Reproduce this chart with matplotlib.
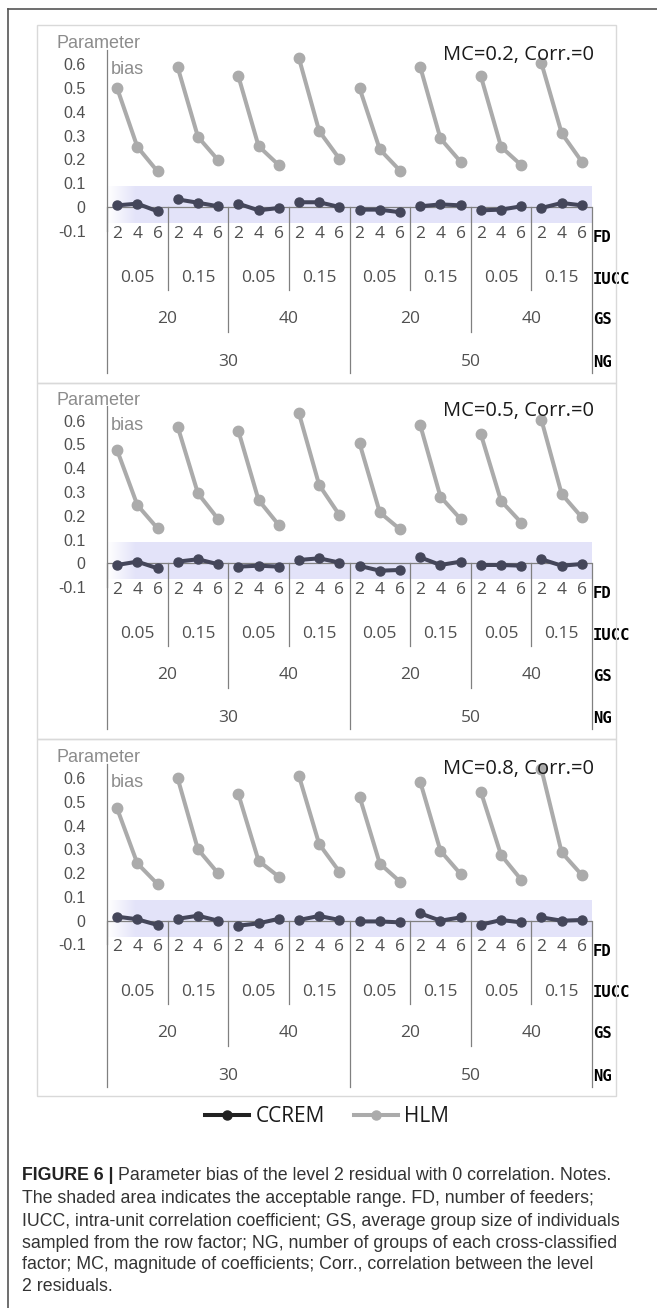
import matplotlib
matplotlib.use('Agg')
import matplotlib.pyplot as plt
from matplotlib.lines import Line2D
from matplotlib.patches import Rectangle
import numpy as np

W, H = 657, 1308

# ---------------- data ----------------
fd_levels = ['2', '4', '6']
iucc_levels = ['0.05', '0.15']
gs_levels = ['20', '40']
ng_levels = ['30', '50']
row_names = ['FD', 'IUCC', 'GS', 'NG']

panel_titles = ['MC=0.2, Corr.=0', 'MC=0.5, Corr.=0', 'MC=0.8, Corr.=0']

hlm_mc02 = [0.50, 0.253, 0.150, 0.587, 0.295, 0.197, 0.550, 0.256, 0.176, 0.625, 0.319, 0.203,
            0.499, 0.242, 0.153, 0.589, 0.288, 0.190, 0.550, 0.253, 0.176, 0.604, 0.310, 0.190]
ccrem_mc02 = [0.007, 0.014, -0.018, 0.032, 0.018, 0.003, 0.014, -0.014, -0.004, 0.020, 0.020, 0.000,
              -0.011, -0.011, -0.022, 0.003, 0.011, 0.007, -0.014, -0.011, 0.003, -0.004, 0.017, 0.007]

hlm_mc05 = [0.476, 0.245, 0.147, 0.574, 0.294, 0.186, 0.557, 0.266, 0.161, 0.630, 0.329, 0.203,
            0.504, 0.214, 0.143, 0.581, 0.280, 0.186, 0.543, 0.262, 0.171, 0.602, 0.291, 0.193]
ccrem_mc05 = [-0.007, 0.007, -0.021, 0.007, 0.017, -0.004, -0.014, -0.010, -0.014, 0.014, 0.021, 0.003,
              -0.011, -0.031, -0.028, 0.025, -0.007, 0.007, -0.007, -0.007, -0.010, 0.017, -0.010, -0.003]

hlm_mc08 = [0.472, 0.241, 0.154, 0.598, 0.300, 0.199, 0.532, 0.252, 0.185, 0.608, 0.322, 0.206,
            0.521, 0.240, 0.164, 0.584, 0.294, 0.196, 0.542, 0.276, 0.172, 0.636, 0.287, 0.192]
ccrem_mc08 = [0.017, 0.006, -0.018, 0.008, 0.021, 0.000, -0.021, -0.011, 0.008, 0.003, 0.020, 0.003,
              -0.003, -0.003, -0.007, 0.031, 0.000, 0.014, -0.017, 0.003, -0.007, 0.014, 0.000, 0.003]

hlm_series = [hlm_mc02, hlm_mc05, hlm_mc08]
ccrem_series = [ccrem_mc02, ccrem_mc05, ccrem_mc08]

yticks = [-0.1, 0, 0.1, 0.2, 0.3, 0.4, 0.5, 0.6]
ytick_labels = ['-0.1', '0', '0.1', '0.2', '0.3', '0.4', '0.5', '0.6']
accept_low, accept_high = -0.068, 0.085

caption_bold = 'FIGURE 6 |'
caption_lines = [
    'Parameter bias of the level 2 residual with 0 correlation. Notes.',
    'The shaded area indicates the acceptable range. FD, number of feeders;',
    'IUCC, intra-unit correlation coefficient; GS, average group size of individuals',
    'sampled from the row factor; NG, number of groups of each cross-classified',
    'factor; MC, magnitude of coefficients; Corr., correlation between the level',
    '2 residuals.',
]

# ---------------- style ----------------
HLM_C = '#ABABAB'
CC_C = '#44465A'
AX_C = '#808080'
TXT_C = '#505050'
SHADE = (0.894, 0.894, 0.98)
YMIN, YMAX = -0.1, 0.66

fig = plt.figure(figsize=(W / 100, H / 100), dpi=100)

def fx(x):
    return x / W

def fy(y):
    return 1 - y / H

# outer frame
fig.add_artist(Line2D([fx(8), fx(8)], [fy(9), fy(1308)], transform=fig.transFigure, color='#555555', lw=1.2))
fig.add_artist(Line2D([fx(8), fx(657)], [fy(9), fy(9)], transform=fig.transFigure, color='#555555', lw=1.2))

box_tops = [25, 383, 739]
box_bots = [383, 739, 1096]
for bt, bb in zip(box_tops, box_bots):
    fig.add_artist(Rectangle((fx(37), fy(bb)), (616 - 37) / W, (bb - bt) / H, transform=fig.transFigure,
                             fill=False, ec='#D9D9D9', lw=1.0))

cats = [(ng, gs, iu, fd) for ng in ng_levels for gs in gs_levels for iu in iucc_levels for fd in fd_levels]
xs = np.arange(len(cats))

offsets = [0, 356.3, 713.7]
top_px, bot_px = 50.0, 230.8
axh = bot_px - top_px

def frac(ypx):
    return (bot_px - ypx) / axh

for p in range(3):
    dy = offsets[p]
    ax = fig.add_axes([fx(107), fy(bot_px + dy), 485 / W, axh / H])
    ax.set_xlim(-0.5, 23.5)
    ax.set_ylim(YMIN, YMAX)
    ax.patch.set_alpha(0)
    for s in ['top', 'right', 'bottom']:
        ax.spines[s].set_visible(False)
    ax.spines['left'].set_color(AX_C)
    ax.spines['left'].set_linewidth(0.9)
    ax.set_xticks([])
    ax.set_yticks(yticks)
    ax.set_yticklabels(ytick_labels)
    ax.tick_params(axis='y', length=0, pad=15.5, labelcolor=TXT_C)
    for lab in ax.get_yticklabels():
        lab.set_fontfamily('Liberation Sans')
        lab.set_fontsize(11.5)

    # acceptable range shading with faded left edge
    n = 400
    gx = np.linspace(-0.5, 23.5, n)
    alpha = np.clip((gx + 0.5) / 1.4, 0.08, 1.0)
    img = np.zeros((1, n, 4))
    img[..., 0], img[..., 1], img[..., 2] = SHADE
    img[0, :, 3] = alpha
    ax.imshow(img, extent=[-0.5, 23.5, accept_low, accept_high], aspect='auto', zorder=0,
              interpolation='bilinear')
    ax.set_xlim(-0.5, 23.5)
    ax.set_ylim(YMIN, YMAX)

    ax.axhline(0, color=AX_C, lw=0.9, zorder=1)

    hlm = hlm_series[p]
    cc = ccrem_series[p]
    for g in range(8):
        sl = slice(3 * g, 3 * g + 3)
        ax.plot(xs[sl], hlm[sl], color=HLM_C, lw=2.9, marker='o', ms=7.5, zorder=3, clip_on=False)
        ax.plot(xs[sl], cc[sl], color=CC_C, lw=2.9, marker='o', ms=6.5, zorder=4, clip_on=False)

    tr = ax.get_xaxis_transform()
    y0 = (0 - YMIN) / (YMAX - YMIN)
    ends = {'IUCC': frac(290), 'GS': frac(332), 'NG': frac(373)}
    for j in range(9):
        xb = -0.5 + 3 * j
        lvl = 'NG' if j % 4 == 0 else ('GS' if j % 2 == 0 else 'IUCC')
        ax.plot([xb, xb], [y0, ends[lvl]], transform=tr, color=AX_C, lw=0.9, clip_on=False, zorder=2)

    lab_kw = dict(transform=tr, ha='center', va='center', color=TXT_C, family='Open Sans', fontsize=12.5)
    for i, c in enumerate(cats):
        ax.text(i, frac(233.7), c[3], **lab_kw)
    for g in range(8):
        ax.text(3 * g + 1, frac(278), cats[3 * g][2], **lab_kw)
    for h in range(4):
        ax.text(6 * h + 2.5, frac(319), cats[6 * h][1], **lab_kw)
    for m in range(2):
        ax.text(12 * m + 5.5, frac(362), cats[12 * m][0], **lab_kw)

    for name, ypx in zip(row_names, [237.5, 279, 320, 362.5]):
        ax.text(23.55, frac(ypx), name, transform=tr, ha='left', va='center', family='DejaVu Sans Mono',
                fontweight='bold', fontsize=11.2, color='black')

    fig.text(fx(57), fy(44 + dy), 'Parameter', ha='left', va='center', family='Liberation Sans',
             fontsize=13, color='#8C8C8C')
    fig.text(fx(111), fy(69 + dy), 'bias', ha='left', va='center', family='Liberation Sans',
             fontsize=13, color='#8C8C8C')
    fig.text(fx(594), fy(55 + dy), panel_titles[p], ha='right', va='center', family='Open Sans',
             fontsize=14.5, color='#1a1a1a')

# legend
handles = [Line2D([], [], color='#222222', lw=2.9, marker='o', ms=6.5),
           Line2D([], [], color=HLM_C, lw=2.9, marker='o', ms=6.5)]
fig.legend(handles, ['CCREM', 'HLM'], loc='center', bbox_to_anchor=(fx(327), fy(1117)), ncol=2,
           frameon=False, prop={'family': 'Open Sans', 'size': 15}, handlelength=2.1,
           handletextpad=0.3, columnspacing=1.4, labelcolor='#1a1a1a')

# caption
renderer = fig.canvas.get_renderer()
cap_y = [1176, 1198.5, 1221, 1243, 1264.5, 1286.5]
cap_size = 12.8
tb = fig.text(fx(22), fy(cap_y[0]), caption_bold, ha='left', va='center', family='Liberation Sans',
              fontweight='bold', fontsize=cap_size, color='#222222')
bb = tb.get_window_extent(renderer=renderer)
fig.text(bb.x1 / W + 4 / W, fy(cap_y[0]), caption_lines[0], ha='left', va='center', family='Liberation Sans',
         fontsize=cap_size, color='#333333')
for line, yy in zip(caption_lines[1:], cap_y[1:]):
    fig.text(fx(22), fy(yy), line, ha='left', va='center', family='Liberation Sans',
             fontsize=cap_size, color='#333333')

fig.savefig('out.png', dpi=100)
